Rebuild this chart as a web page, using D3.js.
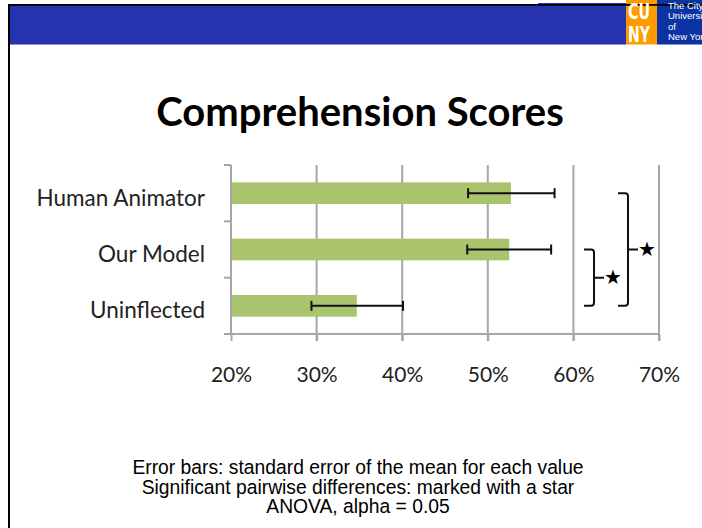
<!DOCTYPE html>
<html>
<head>
<meta charset="utf-8">
<script src="https://cdn.jsdelivr.net/npm/d3@7"></script>
<style>
  body { margin: 0; background: #fff; }
  svg { display: block; }
</style>
</head>
<body>
<svg width="702" height="528"></svg>
<script>
// chart values
var categories = ["Human Animator", "Our Model", "Uninflected"];
var means = [52.7, 52.5, 34.7];
var errLow = [47.7, 47.6, 29.4];
var errHigh = [57.8, 57.4, 40.1];
var tickValues = [20, 30, 40, 50, 60, 70];
// significant pairs: [from, to] category index
var sigPairs = [[1, 2], [0, 2]];
var notes = [
  "Error bars: standard error of the mean for each value",
  "Significant pairwise differences: marked with a star",
  "ANOVA, alpha = 0.05"
];
var logoLines = ["The City", "University", "of", "New York"];

var svg = d3.select("svg");

// --- slide header ---
svg.append("rect").attr("x", 10).attr("y", 5).attr("width", 616).attr("height", 39.5).attr("fill", "#2633ae");
svg.append("rect").attr("x", 626).attr("y", 0).attr("width", 31).attr("height", 44.5).attr("fill", "#ff9a00");
svg.append("rect").attr("x", 657).attr("y", 0).attr("width", 45).attr("height", 44.5).attr("fill", "#0b33a3");
svg.append("rect").attr("x", 538).attr("y", 3).attr("width", 88).attr("height", 2).attr("fill", "#2633ae");
svg.append("rect").attr("x", 8).attr("y", 4).attr("width", 694).attr("height", 1.8).attr("fill", "#000");
svg.append("rect").attr("x", 8).attr("y", 4).attr("width", 2).attr("height", 524).attr("fill", "#000");

svg.append("g").selectAll("text")
  .data(["CU", "NY"])
  .enter()
  .append("text")
  .attr("x", 628)
  .attr("y", (d, i) => 19 + i * 23)
  .attr("font-family", "DejaVu Sans Condensed, DejaVu Sans")
  .attr("font-weight", "bold")
  .attr("font-size", 21)
  .attr("fill", "#fff")
  .attr("textLength", 22)
  .attr("lengthAdjust", "spacingAndGlyphs")
  .text(d => d);

svg.append("g").selectAll("text")
  .data(logoLines)
  .enter()
  .append("text")
  .attr("x", 668)
  .attr("y", (d, i) => 9 + i * 10.3)
  .attr("font-family", "Liberation Sans, Arial")
  .attr("font-size", 9.5)
  .attr("fill", "#fff")
  .text(d => d);

// --- title ---
svg.append("text")
  .attr("x", 360).attr("y", 126)
  .attr("text-anchor", "middle")
  .attr("font-family", "Lato, Open Sans")
  .attr("font-weight", "bold")
  .attr("font-size", 40)
  .attr("fill", "#000")
  .text("Comprehension Scores");

// --- chart ---
var xScale = d3.scaleLinear()
  .domain([20, 70])
  .range([231, 659]);

var yScale = d3.scaleBand()
  .domain(categories)
  .range([165, 334])
  .paddingInner(0.615)
  .paddingOuter(0.3075);

var gridColor = "#a6a6a6";

// gridlines
svg.append("g").selectAll("line")
  .data(tickValues.slice(1))
  .enter()
  .append("line")
  .attr("x1", d => xScale(d)).attr("x2", d => xScale(d))
  .attr("y1", 165).attr("y2", 341)
  .attr("stroke", gridColor).attr("stroke-width", 2);

// bars
svg.append("g").selectAll("rect")
  .data(categories)
  .enter()
  .append("rect")
  .attr("x", xScale(20))
  .attr("y", d => yScale(d))
  .attr("width", (d, i) => xScale(means[i]) - xScale(20))
  .attr("height", yScale.bandwidth())
  .attr("fill", "#a9c46c");

// x axis
var xAxis = d3.axisBottom(xScale)
  .tickValues(tickValues)
  .tickFormat(d => d + "%")
  .tickSize(7)
  .tickPadding(26);

var gx = svg.append("g")
  .attr("transform", "translate(0,334)")
  .call(xAxis);
gx.select(".domain").attr("stroke", gridColor).attr("stroke-width", 2).attr("d", "M225,0H659");
gx.selectAll(".tick line").attr("stroke", gridColor).attr("stroke-width", 2);
gx.selectAll(".tick text")
  .attr("font-family", "Lato, Open Sans")
  .attr("font-size", 21)
  .attr("fill", "#222");

// y axis
var yAxis = d3.axisLeft(yScale).tickSize(0).tickPadding(26);
var gy = svg.append("g")
  .attr("transform", "translate(231,0)")
  .call(yAxis);
gy.select(".domain").attr("stroke", gridColor).attr("stroke-width", 2).attr("d", "M0,165V334");
gy.selectAll(".tick text")
  .attr("font-family", "Lato, Open Sans")
  .attr("font-size", 22.5)
  .attr("dy", "0.55em")
  .attr("fill", "#222");

// category separator ticks on y axis
var step = yScale.step();
svg.append("g").selectAll("line")
  .data(d3.range(categories.length + 1))
  .enter()
  .append("line")
  .attr("x1", 224).attr("x2", 231)
  .attr("y1", i => 165 + i * step).attr("y2", i => 165 + i * step)
  .attr("stroke", gridColor).attr("stroke-width", 2);

// error bars
var eb = svg.append("g").selectAll("g")
  .data(categories)
  .enter()
  .append("g")
  .attr("transform", d => "translate(0," + (yScale(d) + yScale.bandwidth() / 2) + ")");
eb.append("line")
  .attr("x1", (d, i) => xScale(errLow[i])).attr("x2", (d, i) => xScale(errHigh[i]))
  .attr("stroke", "#111").attr("stroke-width", 2);
eb.append("line")
  .attr("x1", (d, i) => xScale(errLow[i])).attr("x2", (d, i) => xScale(errLow[i]))
  .attr("y1", -5).attr("y2", 5)
  .attr("stroke", "#111").attr("stroke-width", 2);
eb.append("line")
  .attr("x1", (d, i) => xScale(errHigh[i])).attr("x2", (d, i) => xScale(errHigh[i]))
  .attr("y1", -5).attr("y2", 5)
  .attr("stroke", "#111").attr("stroke-width", 2);

// significance brackets
var bracketX = [594, 628];
var center = d => yScale(categories[d]) + yScale.bandwidth() / 2;
sigPairs.forEach(function (p, k) {
  var y0 = center(p[0]), y1 = center(p[1]), x = bracketX[k], ym = (y0 + y1) / 2;
  var path = d3.path();
  path.moveTo(x - 10, y0);
  path.lineTo(x - 3, y0);
  path.quadraticCurveTo(x, y0, x, y0 + 3);
  path.lineTo(x, y1 - 3);
  path.quadraticCurveTo(x, y1, x - 3, y1);
  path.lineTo(x - 10, y1);
  path.moveTo(x, ym);
  path.lineTo(x + 10, ym);
  svg.append("path").attr("d", path.toString())
    .attr("fill", "none").attr("stroke", "#111").attr("stroke-width", 2);
  svg.append("text")
    .attr("x", x + 19).attr("y", ym - 1)
    .attr("text-anchor", "middle").attr("dominant-baseline", "central")
    .attr("font-family", "DejaVu Sans").attr("font-size", 20).attr("fill", "#000")
    .text("\u2605");
});

// --- footnotes ---
svg.append("g").selectAll("text")
  .data(notes)
  .enter()
  .append("text")
  .attr("x", 358)
  .attr("y", (d, i) => 474 + i * 19.5)
  .attr("text-anchor", "middle")
  .attr("font-family", "Liberation Sans, Arial")
  .attr("font-size", 19.3)
  .attr("fill", "#000")
  .text(d => d);
</script>
</body>
</html>
